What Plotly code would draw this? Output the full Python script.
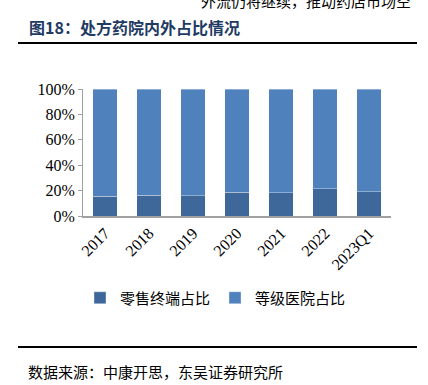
import plotly.graph_objects as go

categories = ["2017", "2018", "2019", "2020", "2021", "2022", "2023Q1"]
retail_share = [0.155, 0.163, 0.160, 0.186, 0.184, 0.213, 0.192]
hospital_share = [round(1 - v, 3) for v in retail_share]

L, R, T, B = 83, 391, 89, 216
W, H = 428, 385
def px(x): return (x - L) / (R - L)
def py(y): return (B - y) / (B - T)

fig = go.Figure()
fig.add_trace(go.Bar(x=categories, y=retail_share, name="零售终端占比",
                     marker=dict(color="#3E6899", line=dict(color="rgba(255,255,255,0.35)", width=1))))
fig.add_trace(go.Bar(x=categories, y=hospital_share, name="等级医院占比",
                     marker=dict(color="#4F81BD", line=dict(color="rgba(255,255,255,0.35)", width=1))))

fig.update_layout(
    barmode="stack", bargap=0.45,
    width=W, height=H,
    margin=dict(l=L, r=W - R, t=T, b=H - B),
    paper_bgcolor="white", plot_bgcolor="white",
    font=dict(family="Liberation Serif", color="black"),
    showlegend=True,
    legend=dict(orientation="h", x=px(80), y=py(298), xanchor="left", yanchor="middle",
                font=dict(family="Noto Sans CJK SC", size=15, color="black"),
                itemwidth=30, traceorder="normal"),
    yaxis=dict(range=[0, 1], dtick=0.2, tickformat=".0%", showgrid=False, automargin=False,
               showline=True, linecolor="#A0A0A0", linewidth=1,
               ticks="outside", ticklen=4, tickcolor="#A0A0A0",
               tickfont=dict(family="Liberation Serif", size=16, color="black")),
    xaxis=dict(showline=True, linecolor="#A0A0A0", linewidth=1.5, ticks="", automargin=False,
               tickangle=-45, tickfont=dict(family="Liberation Serif", size=16, color="black")),
)

fig.add_annotation(text="<b>图18：处方药院内外占比情况</b>", xref="paper", yref="paper",
                   x=px(27), y=py(27), xanchor="left", yanchor="middle", showarrow=False,
                   font=dict(family="Noto Sans CJK SC", size=16, color="#1F3B64"))
fig.add_annotation(text="外流仍将继续，推动药店市场空", xref="paper", yref="paper",
                   x=px(199), y=py(1), xanchor="left", yanchor="middle", showarrow=False,
                   font=dict(family="Noto Sans CJK SC", size=15, color="black"))
fig.add_annotation(text="数据来源：中康开思，东吴证券研究所", xref="paper", yref="paper",
                   x=px(26), y=py(371), xanchor="left", yanchor="middle", showarrow=False,
                   font=dict(family="Noto Sans CJK SC", size=15, color="black"))

for yy in (43, 347):
    fig.add_shape(type="line", xref="paper", yref="paper", x0=px(18), x1=px(417),
                  y0=py(yy), y1=py(yy), line=dict(color="black", width=2))

fig.write_html("out.html", config={"displayModeBar": False},
               post_script="document.body.style.margin='0';document.body.style.padding='0';")
